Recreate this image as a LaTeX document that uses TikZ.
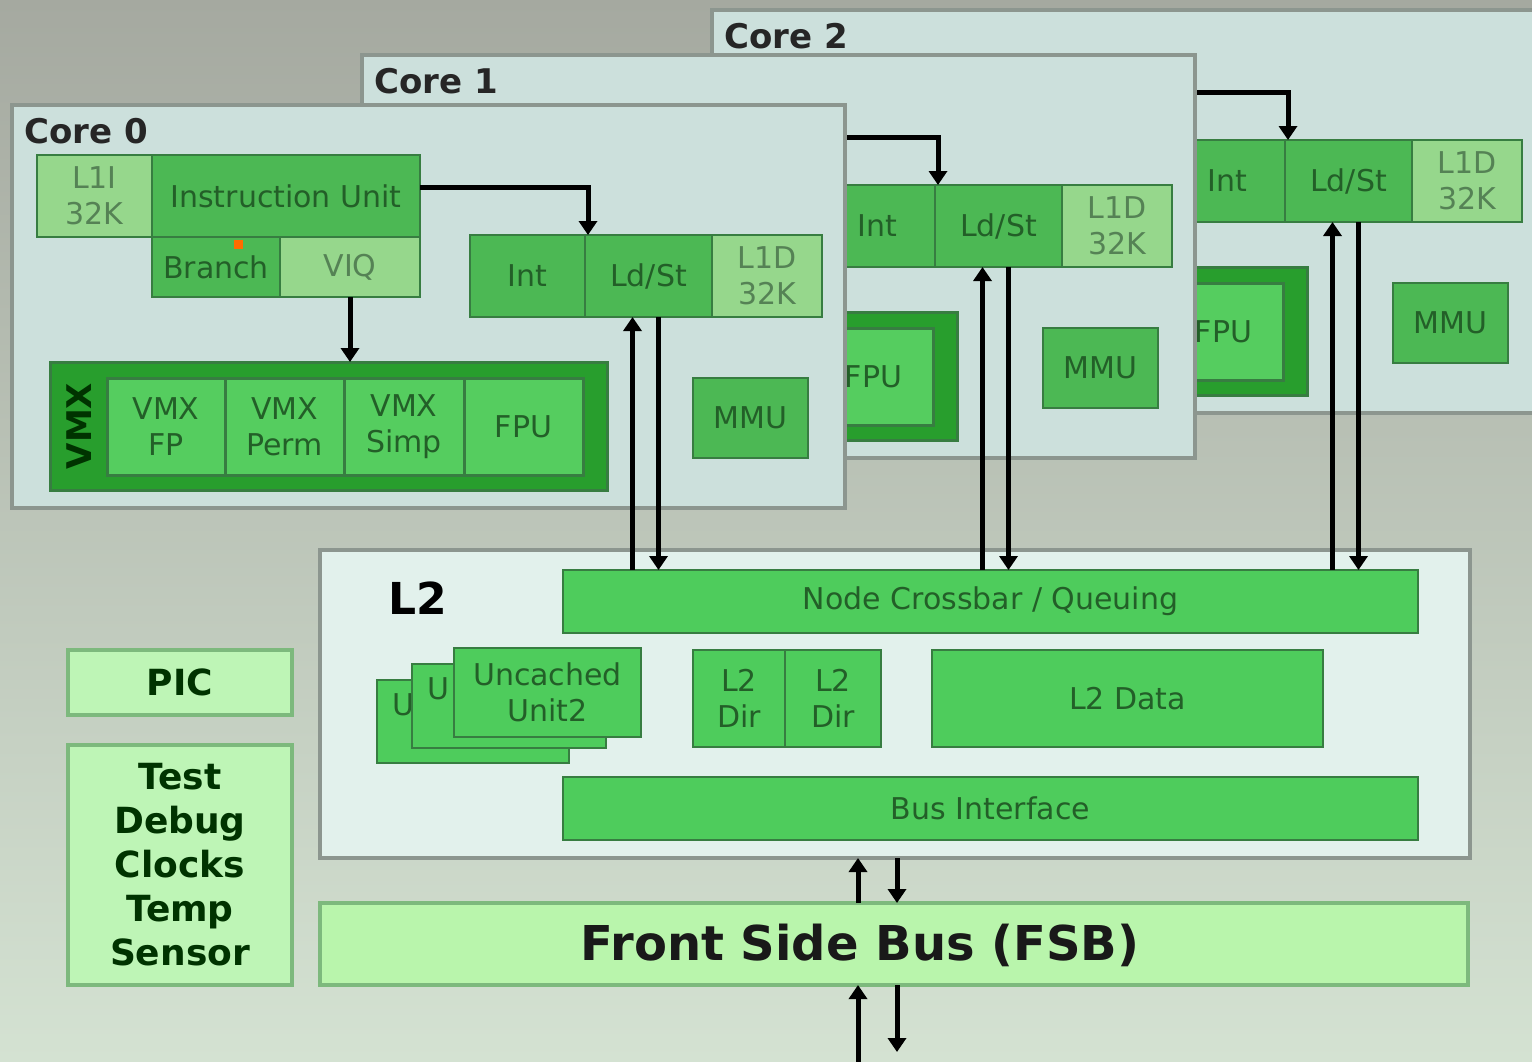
\documentclass[tikz,border=0pt]{standalone}
\usepackage{fontspec}
\setmainfont{DejaVu Sans}
\usetikzlibrary{arrows.meta,calc}
\definecolor{bgtop}{RGB}{165,169,160}
\definecolor{bgbot}{RGB}{212,226,210}
\definecolor{panelc}{RGB}{204,224,220}
\definecolor{panelb}{RGB}{140,150,143}
\definecolor{gmid}{RGB}{76,184,84}
\definecolor{gbord}{RGB}{55,125,65}
\definecolor{glight}{RGB}{150,215,140}
\definecolor{gdark}{RGB}{40,158,45}
\definecolor{ginner}{RGB}{85,205,95}
\definecolor{l2c}{RGB}{226,241,236}
\definecolor{gbright}{RGB}{78,204,92}
\definecolor{fsbc}{RGB}{185,245,172}
\definecolor{fsbb}{RGB}{125,185,125}
\definecolor{sidec}{RGB}{190,245,182}
\definecolor{txtg}{RGB}{35,95,40}
\definecolor{txtl}{RGB}{85,130,85}
\newcommand\bx[7]{%
  \pgfmathsetmacro\bxw{(#4-#2)*0.5}\pgfmathsetmacro\bxh{(#5-#3)*0.5}%
  \node[#6, minimum width=\bxw pt, minimum height=\bxh pt] (#1) at ({(#2+#4)/2},{(#3+#5)/2}) {#7};}
\tikzset{
  box/.style={draw=gbord, line width=1.2pt, inner sep=0pt, outer sep=0pt, align=center,
    font=\fontsize{15}{18}\selectfont, text=txtg},
  midbox/.style={box, fill=gmid},
  lightbox/.style={box, fill=glight, text=txtl},
  vmxbox/.style={box, fill=gdark, draw=gbord, line width=1.5pt},
  innerbox/.style={box, fill=ginner, line width=1.5pt},
  panelbox/.style={draw=panelb, fill=panelc, line width=2.2pt, inner sep=0pt, outer sep=0pt},
  coretitle/.style={font=\bfseries\fontsize{17}{20}\selectfont, text=black!85, inner sep=0pt},
  vmxlabel/.style={font=\bfseries\fontsize{17}{20}\selectfont, text=black!80!green, inner sep=0pt},
  l2panel/.style={draw=panelb, fill=l2c, line width=2.2pt, inner sep=0pt, outer sep=0pt},
  l2box/.style={box, fill=gbright},
  fsbbox/.style={box, fill=fsbc, draw=fsbb, line width=2pt},
  sidebox/.style={box, fill=sidec, draw=fsbb, line width=2pt, text=black!80!green,
    font=\bfseries\fontsize{18}{22}\selectfont},
  arr/.style={line width=2.5pt, black, -{Triangle[length=7pt,width=9pt]}},
}
% #1 prefix, #2 dx, #3 dy, #4 core number (texts of parts hidden by the cores in front are left out)
\newcommand\drawcore[4]{%
\begin{scope}[shift={(#2,#3)}]
  \bx{#1panel}{12}{105}{845}{508}{panelbox}{}
  \node[coretitle, anchor=west] (#1title) at (24,131) {Core #4};
  \ifnum#4=0
    \bx{#1lii}{37}{155}{152}{237}{lightbox}{L1I\\32K}
    \bx{#1iu}{152}{155}{420}{237}{midbox}{Instruction Unit}
    \bx{#1br}{152}{237}{280}{297}{midbox}{Branch}
    \bx{#1viq}{280}{237}{420}{297}{lightbox}{VIQ}
    \fill[orange!85!red] (234,240) rectangle (243,249);
  \else
    \bx{#1lii}{37}{155}{152}{237}{lightbox}{}
    \bx{#1iu}{152}{155}{420}{237}{midbox}{}
    \bx{#1br}{152}{237}{280}{297}{midbox}{}
    \bx{#1viq}{280}{237}{420}{297}{lightbox}{}
  \fi
  \bx{#1int}{470}{235}{585}{317}{midbox}{Int}
  \bx{#1ls}{585}{235}{712}{317}{midbox}{Ld/St}
  \bx{#1lid}{712}{235}{822}{317}{lightbox}{L1D\\32K}
  \bx{#1vmx}{50}{362}{607}{490}{vmxbox}{}
  \ifnum#4=0
    \node[vmxlabel, rotate=90] (#1vmxl) at (79,426) {VMX};
    \bx{#1vfp}{107}{378}{225}{475}{innerbox}{VMX\\FP}
    \bx{#1vpe}{225}{378}{344}{475}{innerbox}{VMX\\Perm}
    \bx{#1vsi}{344}{378}{464}{475}{innerbox}{VMX\\Simp}
  \else
    \bx{#1vfp}{107}{378}{225}{475}{innerbox}{}
    \bx{#1vpe}{225}{378}{344}{475}{innerbox}{}
    \bx{#1vsi}{344}{378}{464}{475}{innerbox}{}
  \fi
  \bx{#1fpu}{464}{378}{583}{475}{innerbox}{FPU}
  \bx{#1mmu}{693}{378}{808}{458}{midbox}{MMU}
  \draw[arr] ([yshift=4.5pt]#1iu.east) -| ([xshift=1.5pt]#1ls.north west);
  \draw[arr] (#1viq.south) -- (#1viq.south |- #1vmx.north);
\end{scope}}
\begin{document}
\begin{tikzpicture}[x=0.5pt,y=-0.5pt]
\clip (0,0) rectangle (1532,1061);
\shade[top color=bgtop, bottom color=bgbot] (0,0) rectangle (1532,1061);
\drawcore{ctwo}{700}{-95}{2}
\drawcore{cone}{350}{-50}{1}
\drawcore{czero}{0}{0}{0}
% L2
\bx{l2}{320}{550}{1470}{858}{l2panel}{}
\node[font=\bfseries\fontsize{22}{26}\selectfont, text=black, inner sep=0pt] (l2t) at (418,598) {L2};
\bx{xbar}{563}{570}{1418}{633}{l2box}{Node Crossbar / Queuing}
\bx{uczero}{377}{680}{569}{763}{l2box}{}
\node[box, draw=none, anchor=west] (uczerot) at (392,705) {U};
\bx{ucone}{412}{664}{606}{748}{l2box}{}
\node[box, draw=none, anchor=west] (uconet) at (427,689) {U};
\bx{uctwo}{454}{648}{641}{737}{l2box}{Uncached\\Unit2}
\bx{dirA}{693}{650}{785}{747}{l2box}{L2\\Dir}
\bx{dirB}{785}{650}{881}{747}{l2box}{L2\\Dir}
\bx{l2d}{932}{650}{1323}{747}{l2box}{L2 Data}
\bx{bus}{563}{777}{1418}{840}{l2box}{Bus Interface}
% FSB and side boxes
\bx{fsb}{320}{903}{1468}{985}{fsbbox}{}
\node[font=\bfseries\fontsize{24}{28}\selectfont, text=black!90] (fsbt) at (860,945) {Front Side Bus (FSB)};
\bx{pic}{68}{650}{292}{715}{sidebox}{PIC}
\bx{tdc}{68}{745}{292}{985}{sidebox}{Test\\Debug\\Clocks\\Temp\\Sensor}
% core <-> crossbar
\foreach \p in {czero,cone,ctwo}{
  \coordinate (\p L) at ([xshift=-8pt]\p ls.south);
  \coordinate (\p R) at ([xshift=5pt]\p ls.south);
  \draw[arr] (\p L |- xbar.north) -- (\p L);
  \draw[arr] (\p R) -- (\p R |- xbar.north);
}
% L2 <-> FSB
\coordinate (busL) at ([xshift=-18.5pt]l2.south);
\coordinate (busR) at ([xshift=1pt]l2.south);
\draw[arr] (busL |- fsb.north) -- (busL);
\draw[arr] (busR) -- (busR |- fsb.north);
\coordinate (botL) at (858,1064);
\coordinate (botR) at (897,1052);
\draw[arr] (botL) -- (botL |- fsb.south);
\draw[arr] (botR |- fsb.south) -- (botR);
\end{tikzpicture}
\end{document}
